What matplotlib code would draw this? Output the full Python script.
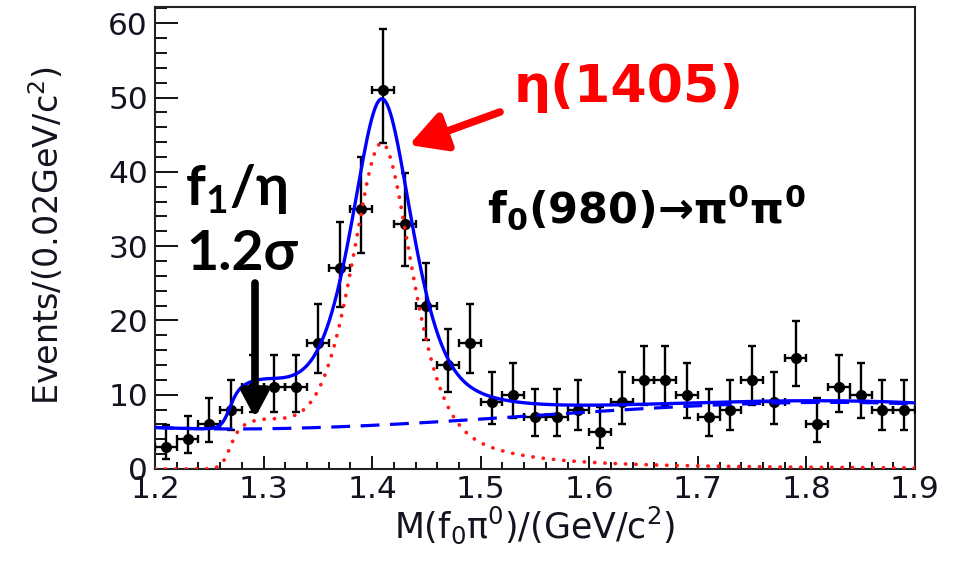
import numpy as np
import matplotlib
matplotlib.use("Agg")
import matplotlib.pyplot as plt
from matplotlib.patches import FancyArrowPatch
from matplotlib.ticker import MultipleLocator, FormatStrFormatter

# ---- binned data: M(f0 pi0), 0.02 GeV/c^2 bins ----
bin_centers = [1.21, 1.23, 1.25, 1.27, 1.29, 1.31, 1.33, 1.35, 1.37, 1.39,
               1.41, 1.43, 1.45, 1.47, 1.49, 1.51, 1.53, 1.55, 1.57, 1.59,
               1.61, 1.63, 1.65, 1.67, 1.69, 1.71, 1.73, 1.75, 1.77, 1.79,
               1.81, 1.83, 1.85, 1.87, 1.89]
counts = [3, 4, 6, 8, 11, 11, 11, 17, 27, 35,
          51, 33, 22, 14, 17, 9, 10, 7, 7, 8,
          5, 9, 12, 12, 10, 7, 8, 12, 9, 15,
          6, 11, 10, 8, 8]
bin_half_width = 0.01

# ---- fit parameters ----
eta_mass, eta_fwhm, eta_lorentz_frac, eta_amp = 1.409, 0.068, 0.60, 43.2
f1_mass, f1_width, f1_amp = 1.292, 0.10, 4.5
turn_on_mass, turn_on_width = 1.268, 0.008
bkg_coeffs = [7.2, 3.41, -0.03, -1.83]      # cubic in u = (m - 1.55)/0.35
x_ticks = [1.2, 1.3, 1.4, 1.5, 1.6, 1.7, 1.8, 1.9]
y_ticks = [0, 10, 20, 30, 40, 50, 60]


def background(m):
    u = (m - 1.55) / 0.35
    return sum(c * u ** i for i, c in enumerate(bkg_coeffs))


def eta_shape(m):
    d = (m - eta_mass) / eta_fwhm
    lor = 1.0 / (1.0 + 4.0 * d ** 2)
    gau = np.exp(-4.0 * np.log(2.0) * d ** 2)
    return eta_amp * (eta_lorentz_frac * lor + (1 - eta_lorentz_frac) * gau)


def f1_shape(m):
    return f1_amp / (1.0 + (2.0 * (m - f1_mass) / f1_width) ** 2)


def signal(m):
    turn_on = 0.5 * (1.0 + np.tanh((m - turn_on_mass) / turn_on_width))
    return turn_on * (eta_shape(m) + f1_shape(m))


# Garwood-style (Wilson-Hilferty) Poisson intervals for the counts
n = np.array(counts, dtype=float)
err_lo = n - n * (1 - 1 / (9 * n) - 1 / (3 * np.sqrt(n))) ** 3
err_hi = (n + 1) * (1 - 1 / (9 * (n + 1)) + 1 / (3 * np.sqrt(n + 1))) ** 3 - n

plt.rcParams["mathtext.fontset"] = "custom"
plt.rcParams["mathtext.rm"] = "Lato:bold"
plt.rcParams["mathtext.it"] = "Lato:bold"
plt.rcParams["mathtext.bf"] = "Lato:bold"
plt.rcParams["mathtext.fallback"] = "stixsans"

W, H = 958, 563
fig = plt.figure(figsize=(W / 100, H / 100), dpi=100)
ax = fig.add_axes([155 / W, 1 - 469 / H, 760 / W, 462 / H])

ax.errorbar(bin_centers, counts, yerr=[err_lo, err_hi], xerr=bin_half_width,
            fmt="o", color="black", ms=7, elinewidth=1.7, capsize=3.2,
            capthick=1.7, zorder=3)

m = np.linspace(1.2, 1.9, 1400)
ax.plot(m, background(m), color="#0000ff", lw=2.3,
        linestyle=(0, (5.9, 3.3)), zorder=4)
ax.plot(m, signal(m), color="#ff1a1a", lw=2.7,
        linestyle=(0, (0.05, 2.7)), dash_capstyle="round", zorder=4)
ax.plot(m, signal(m) + background(m), color="#0000ff", lw=2.4, zorder=5)

ax.set_xlim(1.2, 1.9)
ax.set_ylim(0, 62.2)
ax.set_xticks(x_ticks)
ax.set_yticks(y_ticks)
ax.xaxis.set_major_formatter(FormatStrFormatter("%.1f"))
ax.xaxis.set_minor_locator(MultipleLocator(0.02))
ax.yaxis.set_minor_locator(MultipleLocator(2))

ax.tick_params(axis="both", which="both", direction="in", top=False,
               right=False, colors="#111111", width=1.4)
ax.tick_params(axis="y", which="major", length=16.5, pad=5)
ax.tick_params(axis="y", which="minor", length=8.3)
ax.tick_params(axis="x", which="major", length=9.5, pad=4)
ax.tick_params(axis="x", which="minor", length=5)
for lab in ax.get_xticklabels() + ax.get_yticklabels():
    lab.set_fontfamily("DejaVu Sans")
    lab.set_fontsize(22.5)
    lab.set_color("#141420")
for s in ax.spines.values():
    s.set_linewidth(1.5)
    s.set_color("#222222")

label_font = dict(family="DejaVu Sans", color="#141420",
                  math_fontfamily="dejavusans")
ax.set_xlabel(r"M(f$_0$π$^0$)/(GeV/c$^2$)", va="top", fontsize=25,
              **label_font)
ax.xaxis.set_label_coords(0.500, -0.076)
ax.set_ylabel(r"Events/(0.02GeV/c$^2$)", va="center", fontsize=24,
              **label_font)
ax.yaxis.set_label_coords(-0.142, 0.505)


# ---- annotations ----
def fx(px):
    return px / W


def fy(py):
    return 1 - py / H


fig.text(fx(514), fy(102), "η(1405)", color="#ff0000", fontsize=37.5,
         fontweight="bold", family="DejaVu Sans", va="baseline", ha="left")
fig.text(fx(487), fy(223),
         r"f$_\mathbf{0}$(980)→π$^\mathbf{0}$π$^\mathbf{0}$",
         color="black", fontsize=31, fontweight="bold", family="DejaVu Sans",
         math_fontfamily="dejavusans", va="baseline", ha="left")
fig.text(fx(185), fy(205), r"f$_1$/η", color="black", fontsize=40,
         fontweight="bold", family=["Lato", "DejaVu Sans"],
         math_fontfamily="custom", va="baseline", ha="left")
fig.text(fx(186), fy(270), "1.2σ", color="black", fontsize=40,
         fontweight="bold", family=["Lato", "DejaVu Sans"],
         va="baseline", ha="left")

fig.add_artist(FancyArrowPatch(
    (fx(500), fy(112)), (fx(409), fy(145)), transform=fig.transFigure,
    arrowstyle="-|>,head_length=1.1,head_width=0.6", mutation_scale=20,
    color="#ff0000", lw=5.5, shrinkA=0, shrinkB=0, zorder=10))
fig.add_artist(FancyArrowPatch(
    (fx(255), fy(283)), (fx(255), fy(418)), transform=fig.transFigure,
    arrowstyle="-|>,head_length=0.75,head_width=0.4", mutation_scale=20,
    color="black", lw=5.5, shrinkA=0, shrinkB=0, zorder=10))

fig.savefig("out.png", dpi=100)
